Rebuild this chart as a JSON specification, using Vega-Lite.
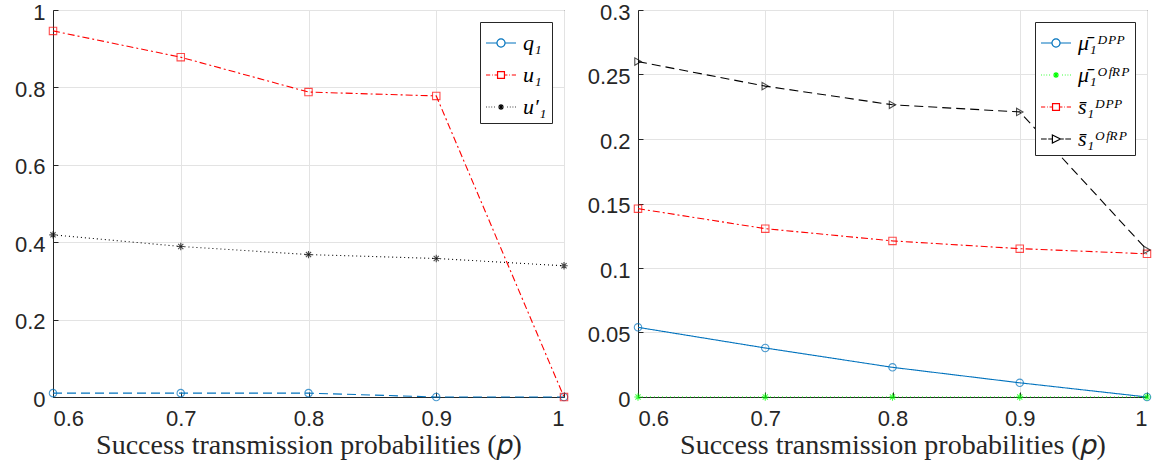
{
 "$schema": "https://vega.github.io/schema/vega-lite/v6.json",
 "background": "white",
 "padding": {"left": 13, "top": 0, "right": 5, "bottom": 5},
 "bounds": "flush",
 "spacing": 74,
 "config": {
  "view": {"stroke": "#262626", "strokeWidth": 1},
  "axis": {"labelFont": "Liberation Sans", "labelFontSize": 22, "labelColor": "#262626", "titleFont": "Liberation Serif", "titleFontSize": 28, "titleFontWeight": "normal", "titleColor": "#262626", "gridColor": "#e3e3e3", "domainColor": "#262626", "tickColor": "#262626", "tickSize": -5},
  "axisX": {"titlePadding": 2, "labelPadding": 16},
  "axisY": {"labelPadding": 13, "labelOffset": 2},
  "legend": {"labelFont": "Liberation Serif", "labelFontSize": 22, "labelColor": "#000", "strokeColor": "#262626", "fillColor": "white", "padding": 5, "cornerRadius": 0, "rowPadding": 5, "symbolStrokeWidth": 1.2, "symbolSize": 900, "symbolOpacity": 1, "labelOffset": 6, "offset": 12, "labelFontStyle": "italic", "title": null}
 },
 "datasets": {
  "L": [
   {"x": 0.6, "s": "q₁", "y": 0.01}, {"x": 0.7, "s": "q₁", "y": 0.01}, {"x": 0.8, "s": "q₁", "y": 0.01}, {"x": 0.9, "s": "q₁", "y": 0}, {"x": 1, "s": "q₁", "y": 0},
   {"x": 0.6, "s": "u₁", "y": 0.946}, {"x": 0.7, "s": "u₁", "y": 0.878}, {"x": 0.8, "s": "u₁", "y": 0.788}, {"x": 0.9, "s": "u₁", "y": 0.778}, {"x": 1, "s": "u₁", "y": 0},
   {"x": 0.6, "s": "u′₁", "y": 0.419}, {"x": 0.7, "s": "u′₁", "y": 0.389}, {"x": 0.8, "s": "u′₁", "y": 0.368}, {"x": 0.9, "s": "u′₁", "y": 0.358}, {"x": 1, "s": "u′₁", "y": 0.339}
  ],
  "R": [
   {"x": 0.6, "s": "μ̄₁ᴰᴾᴾ", "y": 0.054}, {"x": 0.7, "s": "μ̄₁ᴰᴾᴾ", "y": 0.038}, {"x": 0.8, "s": "μ̄₁ᴰᴾᴾ", "y": 0.023}, {"x": 0.9, "s": "μ̄₁ᴰᴾᴾ", "y": 0.011}, {"x": 1, "s": "μ̄₁ᴰᴾᴾ", "y": 0},
   {"x": 0.6, "s": "μ̄₁ᴼᶠᴿᴾ", "y": 0}, {"x": 0.7, "s": "μ̄₁ᴼᶠᴿᴾ", "y": 0}, {"x": 0.8, "s": "μ̄₁ᴼᶠᴿᴾ", "y": 0}, {"x": 0.9, "s": "μ̄₁ᴼᶠᴿᴾ", "y": 0}, {"x": 1, "s": "μ̄₁ᴼᶠᴿᴾ", "y": 0},
   {"x": 0.6, "s": "s̄₁ᴰᴾᴾ", "y": 0.146}, {"x": 0.7, "s": "s̄₁ᴰᴾᴾ", "y": 0.1305}, {"x": 0.8, "s": "s̄₁ᴰᴾᴾ", "y": 0.121}, {"x": 0.9, "s": "s̄₁ᴰᴾᴾ", "y": 0.115}, {"x": 1, "s": "s̄₁ᴰᴾᴾ", "y": 0.111},
   {"x": 0.6, "s": "s̄₁ᴼᶠᴿᴾ", "y": 0.26}, {"x": 0.7, "s": "s̄₁ᴼᶠᴿᴾ", "y": 0.241}, {"x": 0.8, "s": "s̄₁ᴼᶠᴿᴾ", "y": 0.2265}, {"x": 0.9, "s": "s̄₁ᴼᶠᴿᴾ", "y": 0.221}, {"x": 1, "s": "s̄₁ᴼᶠᴿᴾ", "y": 0.114}
  ]
 },
 "hconcat": [
  {
   "width": 511, "height": 387,
   "data": {"name": "L"},
   "encoding": {
    "x": {"field": "x", "type": "quantitative", "scale": {"domain": [0.6, 1], "nice": false, "zero": false}, "axis": {"values": [0.6, 0.7, 0.8, 0.9, 1], "format": "~g", "title": "Success transmission probabilities (𝑝)"}},
    "y": {"field": "y", "type": "quantitative", "scale": {"domain": [0, 1], "nice": false}, "axis": {"values": [0, 0.2, 0.4, 0.6, 0.8, 1], "format": "~g", "title": null}}
   },
   "layer": [
    {"mark": {"type": "line", "strokeWidth": 1.1},
     "encoding": {
      "color": {"field": "s", "type": "nominal", "scale": {"domain": ["q₁", "u₁", "u′₁"], "range": ["#0072BD", "#FF0000", "#000000"]}, "legend": null},
      "strokeDash": {"field": "s", "type": "nominal", "scale": {"domain": ["q₁", "u₁", "u′₁"], "range": [[9, 5], [7, 3, 2, 3], [1, 3]]}, "legend": null}
     }},
    {"mark": {"type": "point", "filled": false, "strokeWidth": 1.1, "size": 55},
     "encoding": {
      "color": {"field": "s", "type": "nominal", "scale": {"domain": ["q₁", "u₁", "u′₁"], "range": ["#0072BD", "#FF0000", "#000000"]}, "legend": null},
      "shape": {"field": "s", "type": "nominal", "scale": {"domain": ["q₁", "u₁", "u′₁"], "range": ["circle", "square", "M-1,0L1,0M0,-1L0,1M-0.7,-0.7L0.7,0.7M-0.7,0.7L0.7,-0.7"]}, "legend": null}
     }},
    {"mark": {"type": "point", "filled": false, "strokeWidth": 1.2, "size": 900, "opacity": 0},
     "encoding": {
      "color": {"field": "s", "type": "nominal", "scale": {"domain": ["q₁", "u₁", "u′₁"], "range": ["#0072BD", "#FF0000", "#000000"]}, "legend": {"orient": "top-right", "symbolSize": 900, "symbolOpacity": 1}},
      "shape": {"field": "s", "type": "nominal", "scale": {"domain": ["q₁", "u₁", "u′₁"], "range": ["M-1,0L-0.27,0M0.27,0L1,0M0.27,0A0.27,0.27,0,1,1,-0.27,0A0.27,0.27,0,1,1,0.27,0", "M-1,0L-0.72,0M-0.6,0L-0.55,0M-0.43,0L-0.25,0M0.25,0L0.43,0M0.55,0L0.6,0M0.72,0L1,0M-0.23,-0.23L0.23,-0.23L0.23,0.23L-0.23,0.23Z", "M-1,0L-0.95,0M-0.82,0L-0.77,0M-0.64,0L-0.59,0M-0.46,0L-0.41,0M0.41,0L0.46,0M0.59,0L0.64,0M0.77,0L0.82,0M0.95,0L1,0M-0.2,0L0.2,0M0,-0.2L0,0.2M-0.14,-0.14L0.14,0.14M-0.14,0.14L0.14,-0.14"]}, "legend": {"orient": "top-right", "symbolSize": 900, "symbolOpacity": 1}}
     }}
   ],
   "resolve": {"scale": {"shape": "independent", "color": "independent"}, "legend": {"shape": "independent", "color": "independent"}}
  },
  {
   "width": 509, "height": 387,
   "data": {"name": "R"},
   "encoding": {
    "x": {"field": "x", "type": "quantitative", "scale": {"domain": [0.6, 1], "nice": false, "zero": false}, "axis": {"values": [0.6, 0.7, 0.8, 0.9, 1], "format": "~g", "title": "Success transmission probabilities (𝑝)"}},
    "y": {"field": "y", "type": "quantitative", "scale": {"domain": [0, 0.3], "nice": false}, "axis": {"values": [0, 0.05, 0.1, 0.15, 0.2, 0.25, 0.3], "format": "~g", "title": null}}
   },
   "layer": [
    {"mark": {"type": "line", "strokeWidth": 1.1},
     "encoding": {
      "color": {"field": "s", "type": "nominal", "scale": {"domain": ["μ̄₁ᴰᴾᴾ", "μ̄₁ᴼᶠᴿᴾ", "s̄₁ᴰᴾᴾ", "s̄₁ᴼᶠᴿᴾ"], "range": ["#0072BD", "#00FF00", "#FF0000", "#000000"]}, "legend": null},
      "strokeDash": {"field": "s", "type": "nominal", "scale": {"domain": ["μ̄₁ᴰᴾᴾ", "μ̄₁ᴼᶠᴿᴾ", "s̄₁ᴰᴾᴾ", "s̄₁ᴼᶠᴿᴾ"], "range": [[1, 0], [1, 3], [7, 3, 2, 3], [9, 5]]}, "legend": null}
     }},
    {"mark": {"type": "point", "filled": false, "strokeWidth": 1.1, "size": 55},
     "encoding": {
      "color": {"field": "s", "type": "nominal", "scale": {"domain": ["μ̄₁ᴰᴾᴾ", "μ̄₁ᴼᶠᴿᴾ", "s̄₁ᴰᴾᴾ", "s̄₁ᴼᶠᴿᴾ"], "range": ["#0072BD", "#00FF00", "#FF0000", "#000000"]}, "legend": null},
      "shape": {"field": "s", "type": "nominal", "scale": {"domain": ["μ̄₁ᴰᴾᴾ", "μ̄₁ᴼᶠᴿᴾ", "s̄₁ᴰᴾᴾ", "s̄₁ᴼᶠᴿᴾ"], "range": ["circle", "M-1,0L1,0M0,-1L0,1M-0.7,-0.7L0.7,0.7M-0.7,0.7L0.7,-0.7", "square", "triangle-right"]}, "legend": null}
     }},
    {"mark": {"type": "point", "filled": false, "strokeWidth": 1.2, "size": 900, "opacity": 0},
     "encoding": {
      "color": {"field": "s", "type": "nominal", "scale": {"domain": ["μ̄₁ᴰᴾᴾ", "μ̄₁ᴼᶠᴿᴾ", "s̄₁ᴰᴾᴾ", "s̄₁ᴼᶠᴿᴾ"], "range": ["#0072BD", "#00FF00", "#FF0000", "#000000"]}, "legend": {"orient": "top-right", "symbolSize": 900, "symbolOpacity": 1}},
      "shape": {"field": "s", "type": "nominal", "scale": {"domain": ["μ̄₁ᴰᴾᴾ", "μ̄₁ᴼᶠᴿᴾ", "s̄₁ᴰᴾᴾ", "s̄₁ᴼᶠᴿᴾ"], "range": ["M-1,0L-0.27,0M0.27,0L1,0M0.27,0A0.27,0.27,0,1,1,-0.27,0A0.27,0.27,0,1,1,0.27,0", "M-1,0L-0.95,0M-0.82,0L-0.77,0M-0.64,0L-0.59,0M-0.46,0L-0.41,0M0.41,0L0.46,0M0.59,0L0.64,0M0.77,0L0.82,0M0.95,0L1,0M-0.2,0L0.2,0M0,-0.2L0,0.2M-0.14,-0.14L0.14,0.14M-0.14,0.14L0.14,-0.14", "M-1,0L-0.72,0M-0.6,0L-0.55,0M-0.43,0L-0.25,0M0.25,0L0.43,0M0.55,0L0.6,0M0.72,0L1,0M-0.23,-0.23L0.23,-0.23L0.23,0.23L-0.23,0.23Z", "M-1,0L-0.62,0M-0.52,0L-0.28,0M0.3,0L0.52,0M0.62,0L1,0M-0.24,-0.27L0.3,0L-0.24,0.27Z"]}, "legend": {"orient": "top-right", "symbolSize": 900, "symbolOpacity": 1}}
     }}
   ],
   "resolve": {"scale": {"shape": "independent", "color": "independent"}, "legend": {"shape": "independent", "color": "independent"}}
  }
 ],
 "resolve": {"scale": {"color": "independent", "shape": "independent", "strokeDash": "independent", "x": "independent", "y": "independent"}, "legend": {"color": "independent", "shape": "independent", "strokeDash": "independent"}}
}
